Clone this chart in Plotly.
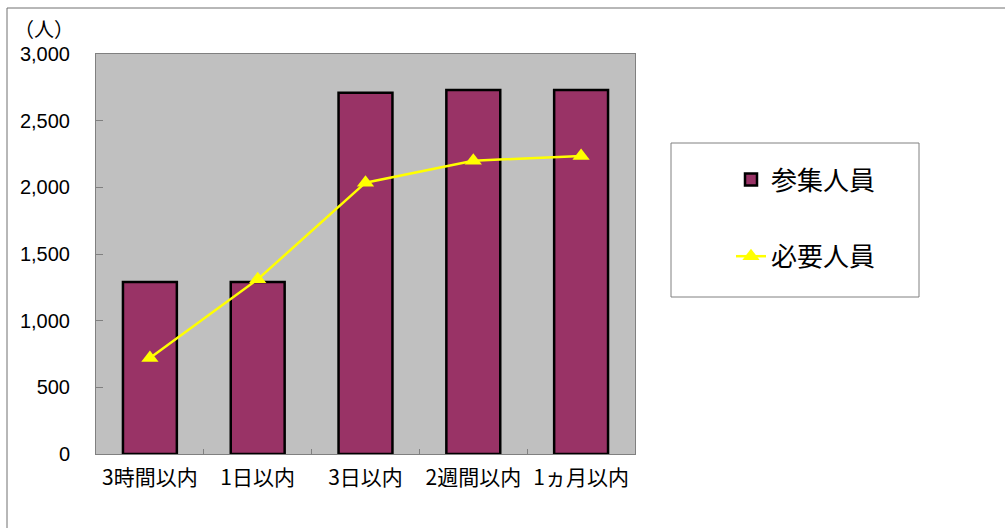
import plotly.graph_objects as go

categories = ["3時間以内", "1日以内", "3日以内", "2週間以内", "1ヵ月以内"]
gathered = [1290, 1290, 2710, 2730, 2730]
required = [720, 1310, 2035, 2200, 2235]
y_ticks = [0, 500, 1000, 1500, 2000, 2500, 3000]

FONT = "Noto Sans CJK JP"
W, H = 1005, 528
ML, MR, MT, MB = 96, W - 635, 54, H - 454
PW, PH = W - ML - MR, H - MT - MB


def px(x):
    return (x - ML) / PW


def py(y):
    return (H - MB - y) / PH


fig = go.Figure()
fig.add_trace(go.Bar(
    x=categories, y=gathered, name="参集人員",
    marker=dict(color="#993366", line=dict(color="#000000", width=2.5)),
    legendgroup="a",
))
fig.add_trace(go.Scatter(
    x=categories, y=required, name="必要人員", mode="lines+markers",
    line=dict(color="#FFFF00", width=2.5),
    marker=dict(symbol="triangle-up", size=15, color="#FFFF00"),
    legendgroup="b",
))

fig.update_layout(
    width=W, height=H,
    margin=dict(l=ML, r=MR, t=MT, b=MB),
    paper_bgcolor="#FFFFFF",
    plot_bgcolor="#C0C0C0",
    bargap=0.5,
    font=dict(family=FONT, color="#000000"),
    showlegend=True,
    legend=dict(
        x=px(731), y=py(156), xanchor="left", yanchor="top",
        bgcolor="rgba(0,0,0,0)", borderwidth=0,
        font=dict(size=26, family=FONT),
        traceorder="grouped", tracegroupgap=40,
    ),
    xaxis=dict(
        type="category", showline=True, linecolor="#808080", linewidth=1,
        mirror=True, ticks="inside", ticklen=5, tickcolor="#808080",
        tickson="boundaries", tickangle=0,
        tickfont=dict(size=21, family=FONT), ticklabelstandoff=5,
        showgrid=False,
    ),
    yaxis=dict(
        range=[0, 3000], tickvals=y_ticks, tickformat=",",
        showline=True, linecolor="#808080", linewidth=1, mirror=True,
        ticks="inside", ticklen=7, tickcolor="#808080",
        tickfont=dict(size=20, family="Liberation Sans"),
        ticklabelstandoff=21, showgrid=False, zeroline=False,
    ),
    shapes=[
        dict(type="rect", xref="paper", yref="paper",
             x0=px(7), x1=px(1015), y0=py(540), y1=py(8),
             line=dict(color="#707070", width=1), fillcolor="rgba(0,0,0,0)",
             layer="below"),
        dict(type="rect", xref="paper", yref="paper",
             x0=px(671), x1=px(919), y0=py(297), y1=py(143),
             line=dict(color="#808080", width=1), fillcolor="#FFFFFF",
             layer="below"),
    ],
    annotations=[
        dict(text="（人）", xref="paper", yref="paper", x=px(12), y=py(28),
             xanchor="left", yanchor="middle", showarrow=False,
             font=dict(size=20, family=FONT)),
    ],
)

fig.write_html("out.html")
